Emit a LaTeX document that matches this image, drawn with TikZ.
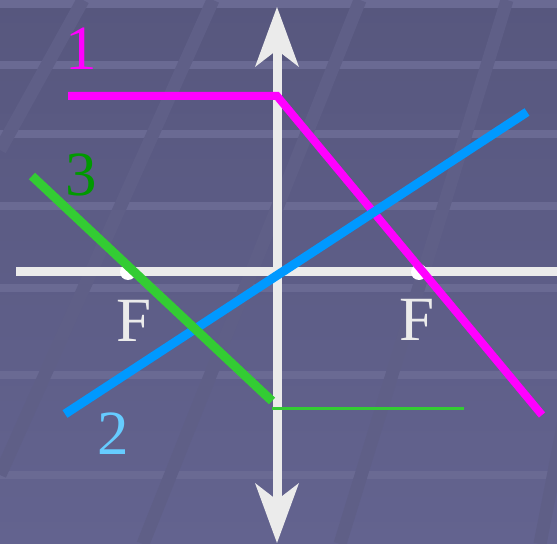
\documentclass[tikz,border=0pt]{standalone}
\usepackage{fontspec}
\setmainfont{Liberation Serif}
\usetikzlibrary{arrows.meta}
\definecolor{bgtop}{HTML}{57577E}
\definecolor{bgbot}{HTML}{63638F}
\definecolor{band}{HTML}{6A6A93}
\definecolor{stripe}{HTML}{5F5F87}
\definecolor{axisgray}{HTML}{EBEBEB}
\definecolor{rayone}{HTML}{FF00FF}
\definecolor{raytwo}{HTML}{0099FF}
\definecolor{raythree}{HTML}{33CC33}
\definecolor{labtwo}{HTML}{66CCFF}
\definecolor{labthree}{HTML}{009900}

\begin{document}
\begin{tikzpicture}[
  x=1bp,y=-1bp,
  axis/.style={draw=axisgray,line width=9bp},
  lenstip/.tip={Stealth[length=60bp,width=44bp,inset=17bp,line width=0pt]},
  ray/.style={line width=9bp,line cap=butt},
  focus/.style={circle,fill=white,inner sep=0pt,minimum size=16bp},
  lab/.style={inner sep=0pt,anchor=base,font=\fontsize{63.2}{70}\selectfont}
]
\useasboundingbox (0,0) rectangle (557,544);
\shade[top color=bgtop,bottom color=bgbot] (0,0) rectangle (557,544);
% floor
\foreach \y in {0,61,130,202,284,371,471}
  \fill[band] (0,\y) rectangle (557,\y+8);
\foreach \xa/\xb/\yb in {83/0/150,213/0/475,360/143/544,507/340/544,646/540/544}
  \draw[stripe,line width=13bp] (\xa,0) -- (\xb,\yb);

% lens and optical axis
\coordinate (top) at (277,7);
\coordinate (bottom) at (277,543);
\coordinate (left) at (16,271.5);
\coordinate (right) at (557,271.5);
\draw[axis,lenstip-lenstip] (bottom) -- (top);
\draw[axis] (left) -- (right);

\node[focus] (fl) at (128,272) {};
\node[focus] (fr) at (419,272) {};
\node[lab,text=axisgray] (fla) at (134,341) {F};
\node[lab,text=axisgray] (fra) at (417,340) {F};

% rays
\coordinate (m0) at (68,96);
\coordinate (m1) at (277,96);
\coordinate (m2) at (542,415);
\draw[ray,rayone,line width=8bp,line join=miter] (m0) -- (m1) -- (m2);

\coordinate (b0) at (65,414);
\coordinate (b1) at (527,112);
\draw[ray,raytwo] (b0) -- (b1);

\coordinate (g0) at (32,176);
\coordinate (g1) at (272,401);
\coordinate (g2) at (272,408.5);
\coordinate (g3) at (464,408.5);
\draw[ray,raythree] (g0) -- (g1);
\draw[raythree,line width=2.7bp] (g2) -- (g3);

\node[lab,text=rayone] (l1) at (81,70) {1};
\node[lab,text=labthree] (l3) at (81,196) {3};
\node[lab,text=labtwo] (l2) at (113,454) {2};
\end{tikzpicture}
\end{document}
